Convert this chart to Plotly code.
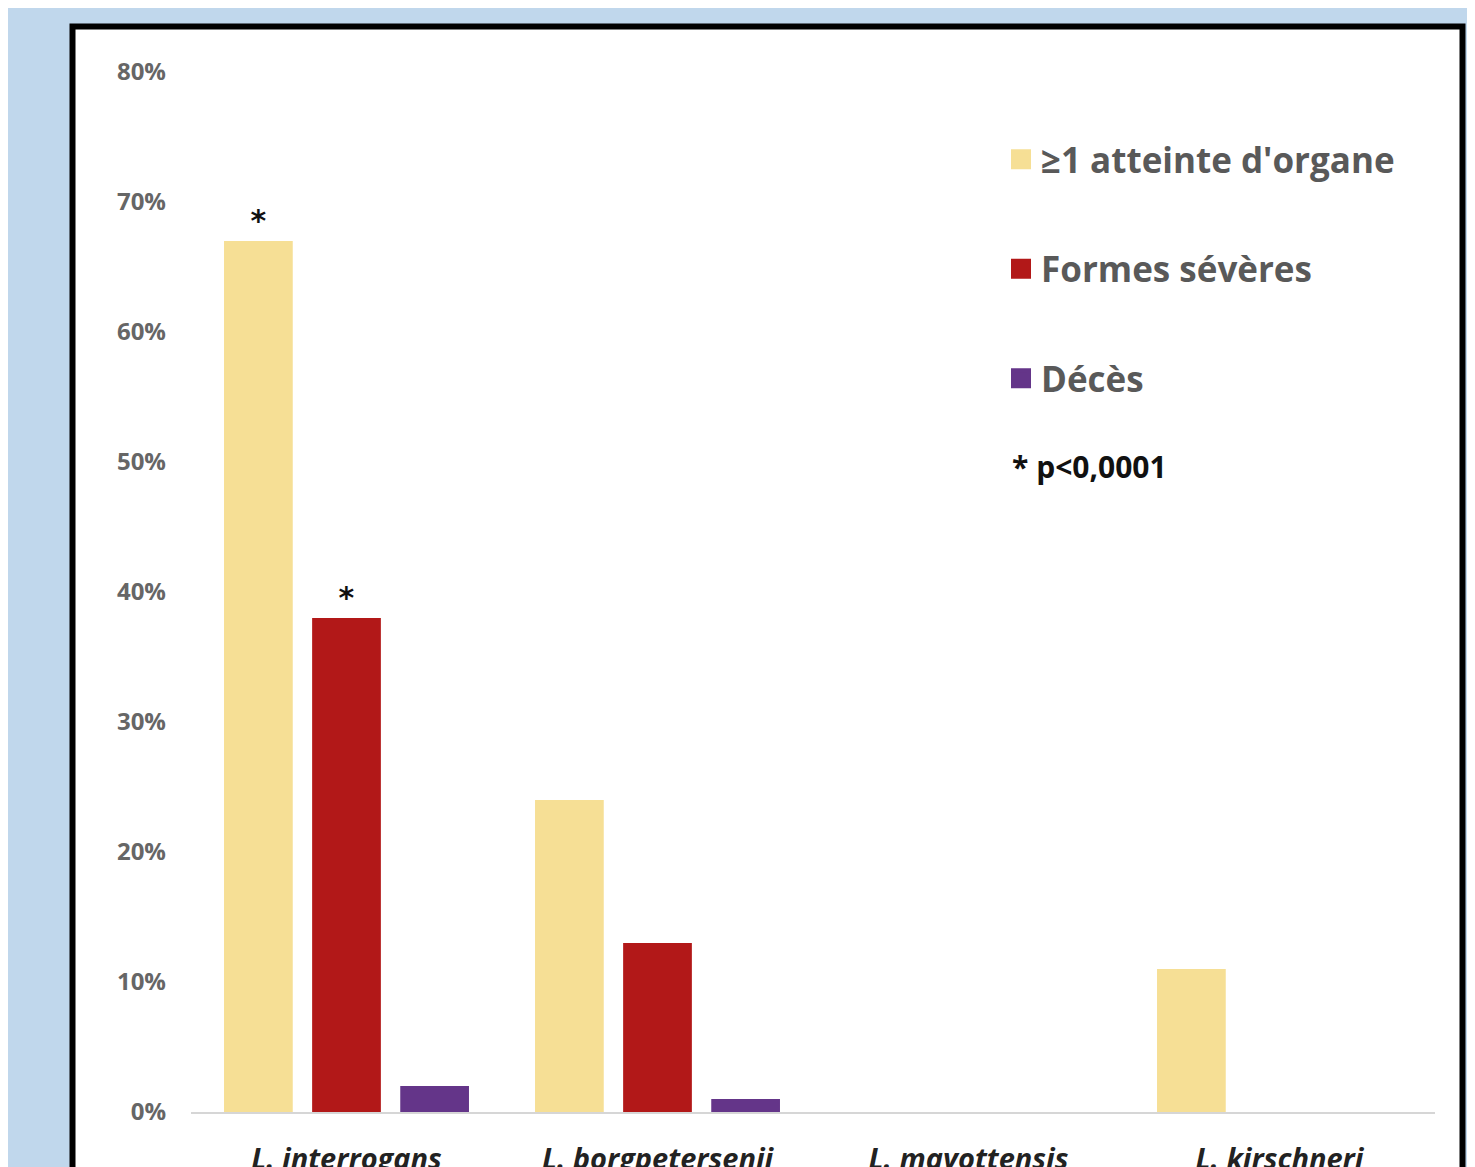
import plotly.graph_objects as go

categories = ["L. interrogans", "L. borgpetersenii", "L. mayottensis", "L. kirschneri"]
organ = [0.67, 0.24, 0.0, 0.11]
severe = [0.38, 0.13, 0.0, 0.0]
deaths = [0.02, 0.01, 0.0, 0.0]
organ_star = ["*", "", "", ""]
severe_star = ["*", "", "", ""]
deaths_star = ["", "", "", ""]
series_names = ["≥1 atteinte d'organe", "Formes sévères", "Décès"]
colors = ["#F6DF95", "#B21818", "#643589"]
y_ticks = [0, 0.1, 0.2, 0.3, 0.4, 0.5, 0.6, 0.7, 0.8]
note = "* p<0,0001"

FONT = "Open Sans"
O = 8  # page body offset
W, H = 1475, 1167
L, R, T, B = 183, 48, 64, 63
pw, ph = W - L - R, H - T - B
def px(x):
    return (x - O - L) / pw
def py(y):
    return (H - B - (y - O)) / ph

fig = go.Figure()
for vals, stars, name, col in zip([organ, severe, deaths], [organ_star, severe_star, deaths_star], series_names, colors):
    fig.add_trace(go.Bar(
        x=categories, y=vals, name=name, marker_color=col,
        marker_line_width=0,
        text=stars, textposition="outside", cliponaxis=False,
        textfont=dict(family="DejaVu Sans", size=30, color="#111111", weight="bold"),
        showlegend=False,
    ))
for i, (name, col) in enumerate(zip(series_names, colors)):
    fig.add_trace(go.Scatter(
        x=[None], y=[None], mode="markers", name=name, legendgroup=f"g{i}",
        marker=dict(symbol="square", size=16, color=col, line=dict(color=col, width=4)),
    ))

fig.update_layout(
    width=W, height=H,
    margin=dict(l=L, r=R, t=T, b=B, autoexpand=False),
    paper_bgcolor="#C0D7EC",
    plot_bgcolor="rgba(0,0,0,0)",
    barmode="group", bargap=0.15, bargroupgap=0.22,
    font=dict(family=FONT),
    showlegend=True,
    legend=dict(
        x=px(1001), y=py(130), xanchor="left", yanchor="top",
        bgcolor="rgba(0,0,0,0)",
        font=dict(family=FONT, size=35, color="#595959", weight="bold"),
        tracegroupgap=61, traceorder="grouped", itemwidth=30,
    ),
    shapes=[
        dict(type="rect", xref="paper", yref="paper",
             x0=px(72.5), x1=px(1462.5), y0=py(1250), y1=py(26.5),
             line=dict(color="black", width=6), fillcolor="white", layer="below"),
    ],
    annotations=[
        dict(text=note, xref="paper", yref="paper", x=px(1010), y=py(466),
             xanchor="left", yanchor="middle", showarrow=False,
             font=dict(family=FONT, size=30, color="#111111", weight="bold")),
    ],
)
fig.update_xaxes(
    automargin=False,
    showgrid=False, showline=True, linecolor="#D6D6D6", linewidth=2,
    ticks="", ticklabelstandoff=20,
    tickfont=dict(family=FONT, size=29, color="#222222", weight="bold", style="italic"),
)
fig.update_yaxes(
    automargin=False,
    range=[0, 0.8], tickvals=y_ticks, tickformat=".0%",
    showgrid=False, zeroline=False, showline=False, ticks="",
    ticklabelstandoff=24,
    tickfont=dict(family=FONT, size=24, color="#666666", weight="bold"),
)

fig.write_html("out.html", config={"displayModeBar": False})
